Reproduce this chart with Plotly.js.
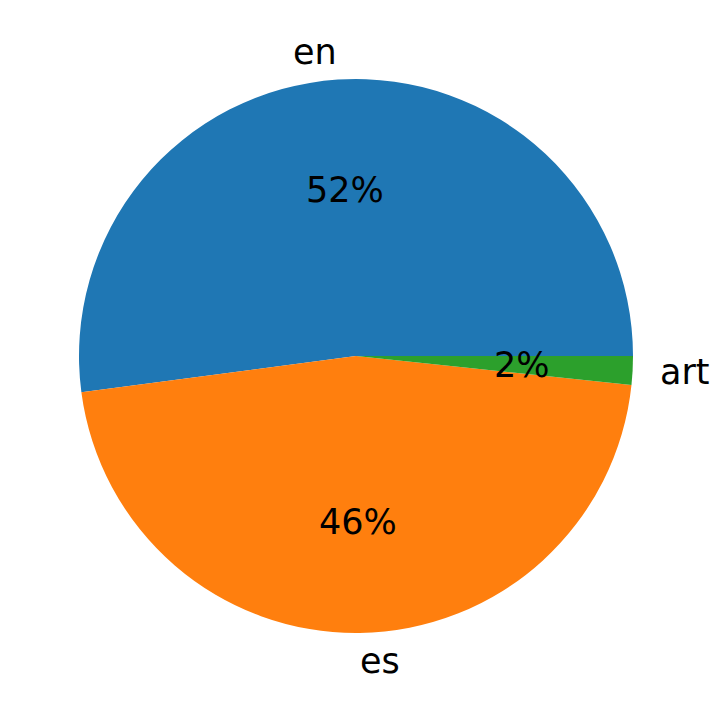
<!DOCTYPE html>
<html>
<head>
<meta charset="utf-8">
<script src="https://cdn.plot.ly/plotly-3.0.1.min.js"></script>
<style>html,body{margin:0;padding:0;background:#fff;}#chart{width:720px;height:713px;}</style>
</head>
<body>
<div id="chart"></div>
<script>
const labels = ["en", "es", "art"];
const values = [312, 277, 10];
const colors = ["#1f77b4", "#ff7f0e", "#2ca02c"];

const total = values.reduce((a, b) => a + b, 0);
const annotations = [];
let cum = 0;
const FONT = {family: "DejaVu Sans", size: 35, color: "#000"};
values.forEach((v, i) => {
  const frac = v / total;
  const mid = (cum + frac / 2) * 2 * Math.PI;
  cum += frac;
  const c = Math.cos(mid), s = Math.sin(mid);
  annotations.push({
    xref: "paper", yref: "paper",
    x: 0.5 + 0.6 * 0.5 * c, y: 0.5 + 0.6 * 0.5 * s,
    text: Math.round(frac * 100) + "%",
    showarrow: false, xanchor: "center", yanchor: "middle", font: FONT
  });
  annotations.push({
    xref: "paper", yref: "paper",
    x: 0.5 + 1.1 * 0.5 * c, y: 0.5 + 1.1 * 0.5 * s,
    text: labels[i],
    showarrow: false, xanchor: c > 0 ? "left" : "right", yanchor: "middle",
    xshift: c > 0 ? -2 : 3,
    font: FONT
  });
});

// Plotly's counterclockwise pie ends the first slice at `rotation`,
// so shift by the first slice's angle to start it at 3 o'clock.
const rotation = 90 - 360 * values[0] / total;

const data = [{
  type: "pie",
  labels: labels,
  values: values,
  sort: false,
  direction: "counterclockwise",
  rotation: rotation,
  marker: {colors: colors, line: {width: 0}},
  textinfo: "none",
  hoverinfo: "label+percent",
  showlegend: false
}];

const layout = {
  width: 720, height: 713,
  margin: {l: 79, r: 87, t: 79, b: 80, pad: 0},
  paper_bgcolor: "#fff",
  plot_bgcolor: "#fff",
  showlegend: false,
  annotations: annotations,
  font: FONT
};

Plotly.newPlot("chart", data, layout, {displayModeBar: false, staticPlot: true});
</script>
</body>
</html>
